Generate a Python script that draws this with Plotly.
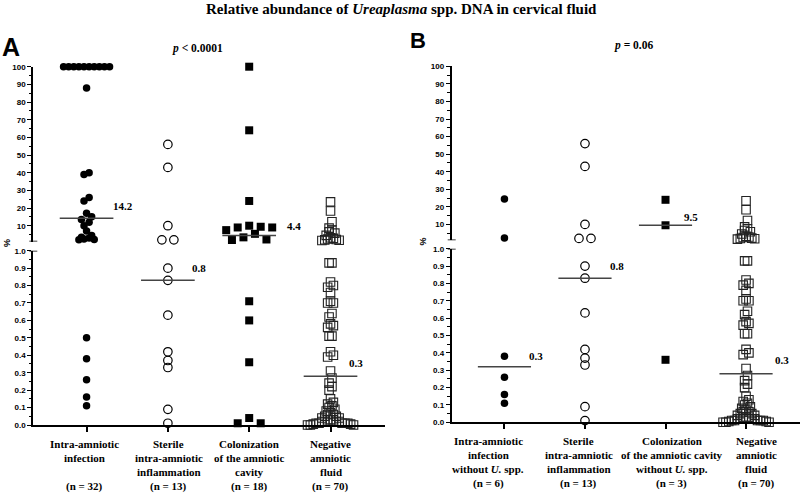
import plotly.graph_objects as go

W, H = 803, 493

# ---------------- data ----------------
TITLE = "Relative abundance of <i>Ureaplasma</i> spp. DNA in cervical fluid"

A_LABELS = ["Intra-amniotic<br>infection<br><br>(n = 32)",
            "Sterile<br>intra-amniotic<br>inflammation<br>(n = 13)",
            "Colonization<br>of the amniotic<br>cavity<br>(n = 18)",
            "Negative<br>amniotic<br>fluid<br>(n = 70)"]
B_LABELS = ["Intra-amniotic<br>infection<br>without <i>U.</i> spp.<br>(n = 6)",
            "Sterile<br>intra-amniotic<br>inflammation<br>(n = 13)",
            "Colonization<br>of the amniotic cavity<br>without <i>U.</i> spp.<br>(n = 3)",
            "Negative<br>amniotic<br>fluid<br>(n = 70)"]

intra_amniotic_infection = [100, 100, 100, 100, 100, 100, 100, 100, 100, 100,
                            88, 40, 39, 26, 24, 17, 15, 13.5, 12, 10, 7,
                            4.5, 3.5, 3, 2.5, 2.2, 2,
                            0.50, 0.38, 0.26, 0.16, 0.11]
sterile_inflammation = [56, 43, 10, 2, 2,
                        0.90, 0.83, 0.63, 0.42, 0.37, 0.33, 0.09, 0.01]
colonization = [100, 64, 24, 10, 9.4, 9, 9, 7.5, 5.4, 3.4, 2.2, 1.9,
                0.71, 0.60, 0.36, 0.04, 0.01, 0.01]
negative_fluid = [23.5, 18.3, 12.2, 8.6, 7.5, 6.5, 5.8, 4.5, 3.2, 2.8, 2.5, 2.2, 2.0, 1.8, 1.6,
                  0.93, 0.93, 0.82, 0.80, 0.79, 0.76, 0.71, 0.70, 0.70, 0.64,
                  0.62, 0.58, 0.57, 0.56, 0.51, 0.51, 0.42, 0.40, 0.39, 0.31,
                  0.27, 0.24, 0.22, 0.20, 0.15, 0.13, 0.12, 0.11, 0.10, 0.09,
                  0.08, 0.07, 0.06, 0.06, 0.05, 0.05, 0.04, 0.04, 0.03, 0.03,
                  0.03, 0.02, 0.02, 0.02, 0.02, 0.01, 0.01, 0.01, 0.01, 0.01,
                  0.005, 0.005, 0.0, 0.0, 0.0]
infection_without_u = [24.5, 2.2, 0.38, 0.26, 0.16, 0.11]
colonization_without_u = [24, 9.5, 0.36]

A_MEDIANS = [14.2, 0.83, 4.4, 0.28]
A_MEDIAN_TEXT = ["14.2", "0.8", "4.4", "0.3"]
B_MEDIANS = [0.32, 0.83, 9.5, 0.28]
B_MEDIAN_TEXT = ["0.3", "0.8", "9.5", "0.3"]

LOWER_TICKS = [0.0, 0.1, 0.2, 0.3, 0.4, 0.5, 0.6, 0.7, 0.8, 0.9, 1.0]
UPPER_TICKS = [10, 20, 30, 40, 50, 60, 70, 80, 90, 100]
P_TEXT = ["<i>p</i> &lt; 0.0001", "<i>p</i> = 0.06"]

# ---------------- layout geometry ----------------
XR = [-0.655, 3.67]
LOWER_R = [0, 1.0]
UPPER_R = [1, 100]
PANELS = {
    "A": dict(xdom=[33.3 / W, 385 / W],
              low=[1 - 425 / H, 1 - 250.7 / H], up=[1 - 241.6 / H, 1 - 66.7 / H],
              label_first=443.5, label_shift=[-2, 1, 0, 0]),
    "B": dict(xdom=[451.7 / W, 800 / W],
              low=[1 - 422.3 / H, 1 - 248.7 / H], up=[1 - 240.2 / H, 1 - 66.3 / H],
              label_first=440.5, label_shift=[-16, -6, 6, 10]),
}
LABEL_LINE_H = 14.3
A_LABEL_DX = [0.30, 0.27, 0.44, 0.20]
A_LABEL_DY = [12, 12, 10, 13]
B_LABEL_DX = [0.28, 0.28, 0.21, 0.33]
B_LABEL_DY = [11, 12, 8, 14]

SERIF = "Liberation Serif"
SANS = "Liberation Sans"
ROW_H = 6.5
W_NAT = 12.0
HALF_MAX = 23.0

STYLES = [dict(symbol="circle", size=7.5, color="black", line=dict(width=0)),
          dict(symbol="circle-open", size=8.5, color="black", line=dict(width=1.2)),
          dict(symbol="square", size=8, color="black", line=dict(width=0)),
          dict(symbol="square-open", size=8.5, color="#222", line=dict(width=1.1))]


def to_px(v, dom, rng):
    top = H * (1 - dom[1])
    bot = H * (1 - dom[0])
    return bot - (v - rng[0]) / (rng[1] - rng[0]) * (bot - top)


def center_out(n):
    if n % 2:
        out = [0]
        k = 1
        while len(out) < n:
            out += [k, -k]
            k += 1
    else:
        out = []
        k = 0.5
        while len(out) < n:
            out += [k, -k]
            k += 1
    return out[:n]


def swarm_slots(values, panel):
    slots = [0.0] * len(values)
    for seg in ("low", "up"):
        rng = LOWER_R if seg == "low" else UPPER_R
        idx = [i for i, v in enumerate(values) if (v < 1) == (seg == "low")]
        idx.sort(key=lambda i: -values[i])
        rows = []
        for i in idx:
            y = to_px(values[i], panel[seg], rng)
            if rows and abs(y - rows[-1][0]) < ROW_H:
                rows[-1][1].append(i)
            else:
                rows.append([y, [i]])
        for _, members in rows:
            for m, s in zip(members, center_out(len(members))):
                slots[m] = s
    return slots


fig = go.Figure()

panel_data = {
    "A": [intra_amniotic_infection, sterile_inflammation, colonization, negative_fluid],
    "B": [infection_without_u, sterile_inflammation, colonization_without_u, negative_fluid],
}
panel_labels = {"A": A_LABELS, "B": B_LABELS}
axes = {"A": ("x", "y", "y2"), "B": ("x2", "y3", "y4")}
medians = {"A": (A_MEDIANS, A_MEDIAN_TEXT, A_LABEL_DX, A_LABEL_DY),
           "B": (B_MEDIANS, B_MEDIAN_TEXT, B_LABEL_DX, B_LABEL_DY)}

annotations = []
for key in ("A", "B"):
    panel = PANELS[key]
    xa, ylow, yup = axes[key]
    px_per_unit = (panel["xdom"][1] - panel["xdom"][0]) * W / (XR[1] - XR[0])
    for ci, vals in enumerate(panel_data[key]):
        slots = swarm_slots(vals, panel)
        maxs = max(abs(s) for s in slots)
        w = W_NAT if maxs == 0 else min(W_NAT, HALF_MAX / maxs)
        for seg, yref in (("low", ylow), ("up", yup)):
            xs = [ci + s * w / px_per_unit for v, s in zip(vals, slots) if (v < 1) == (seg == "low")]
            ys = [v for v in vals if (v < 1) == (seg == "low")]
            if not ys:
                continue
            fig.add_trace(go.Scatter(x=xs, y=ys, mode="markers", xaxis=xa, yaxis=yref,
                                     marker=STYLES[ci], cliponaxis=False,
                                     hoverinfo="y"))
        med, mtxt, mdx, mdy = medians[key]
        m = med[ci]
        yref = ylow if m < 1 else yup
        fig.add_trace(go.Scatter(x=[ci - 0.33, ci + 0.33], y=[m, m], mode="lines",
                                 xaxis=xa, yaxis=yref, cliponaxis=False,
                                 line=dict(color="#444", width=1.5), hoverinfo="skip"))
        annotations.append(dict(x=ci + mdx[ci], y=m, xref=xa, yref=yref, text=mtxt[ci],
                                showarrow=False, xanchor="left", yanchor="middle",
                                yshift=mdy[ci],
                                font=dict(family=SERIF, size=11, color="black", weight="bold")))
        # category label below the axis, one annotation per line
        for j, line in enumerate(panel_labels[key][ci].split("<br>")):
            if not line:
                continue
            ypx = panel["label_first"] + j * LABEL_LINE_H
            annotations.append(dict(x=ci, y=1 - ypx / H, xref=xa, yref="paper",
                                    xshift=panel["label_shift"][ci],
                                    text=line, showarrow=False,
                                    xanchor="center", yanchor="middle",
                                    font=dict(family=SERIF, size=11, color="black",
                                              weight="bold")))

# titles & labels
annotations += [
    dict(x=0.5, y=1 - 8.5 / H, xref="paper", yref="paper", text=TITLE, showarrow=False,
         xanchor="center", yanchor="middle",
         font=dict(family=SERIF, size=15, color="black", weight="bold")),
    dict(x=11 / W, y=1 - 47 / H, xref="paper", yref="paper", text="A", showarrow=False,
         xanchor="center", yanchor="middle",
         font=dict(family=SANS, size=25, color="black", weight="bold")),
    dict(x=418 / W, y=1 - 41 / H, xref="paper", yref="paper", text="B", showarrow=False,
         xanchor="center", yanchor="middle",
         font=dict(family=SANS, size=22, color="black", weight="bold")),
    dict(x=197.5 / W, y=1 - 49 / H, xref="paper", yref="paper", text=P_TEXT[0], showarrow=False,
         xanchor="center", yanchor="middle",
         font=dict(family=SERIF, size=11.5, color="black", weight="bold")),
    dict(x=633 / W, y=1 - 45 / H, xref="paper", yref="paper", text=P_TEXT[1], showarrow=False,
         xanchor="center", yanchor="middle",
         font=dict(family=SERIF, size=11.5, color="black", weight="bold")),
    dict(x=7 / W, y=1 - 243 / H, xref="paper", yref="paper", text="%", showarrow=False,
         textangle=-90, xanchor="center", yanchor="middle",
         font=dict(family=SANS, size=9, color="black", weight="bold")),
    dict(x=422.5 / W, y=1 - 242 / H, xref="paper", yref="paper", text="%", showarrow=False,
         textangle=-90, xanchor="center", yanchor="middle",
         font=dict(family=SANS, size=9, color="black", weight="bold")),
]

# axis break caps
shapes = []
for key in ("A", "B"):
    panel = PANELS[key]
    xa, ylow, yup = axes[key]
    x0 = panel["xdom"][0]
    for yref, val in ((yup, UPPER_R[0]), (ylow, LOWER_R[1])):
        shapes.append(dict(type="line", xref="paper", yref=yref,
                           x0=x0 - 4 / W, x1=x0 + 4 / W, y0=val, y1=val,
                           line=dict(color="black", width=1.5)))

common_y = dict(showgrid=False, zeroline=False, showline=True, linewidth=2, linecolor="black",
                ticks="outside", ticklen=4, tickwidth=1.3, tickcolor="black",
                tickfont=dict(family=SANS, size=8, color="black", weight="bold"),
                automargin=False, fixedrange=True)
common_x = dict(showgrid=False, zeroline=False, showline=True, linewidth=2, linecolor="black",
                ticks="outside", ticklen=5, tickwidth=1.5, tickcolor="black",
                tickvals=[0, 1, 2, 3], showticklabels=False, range=XR,
                automargin=False, fixedrange=True)

lower_y = dict(range=LOWER_R, tickvals=LOWER_TICKS, tickformat=".1f",
               minor=dict(dtick=0.05, tick0=0, ticks="outside", ticklen=2.5, tickwidth=1,
                          tickcolor="black", showgrid=False))
upper_y = dict(range=UPPER_R, tickvals=UPPER_TICKS,
               minor=dict(dtick=5, tick0=0, ticks="outside", ticklen=2.5, tickwidth=1,
                          tickcolor="black", showgrid=False))

fig.update_layout(
    width=W, height=H, margin=dict(l=0, r=0, t=0, b=0),
    paper_bgcolor="white", plot_bgcolor="white", showlegend=False,
    xaxis=dict(domain=PANELS["A"]["xdom"], anchor="y", **common_x),
    xaxis2=dict(domain=PANELS["B"]["xdom"], anchor="y3", **common_x),
    yaxis=dict(domain=PANELS["A"]["low"], anchor="x", **lower_y, **common_y),
    yaxis2=dict(domain=PANELS["A"]["up"], anchor="x", **upper_y, **common_y),
    yaxis3=dict(domain=PANELS["B"]["low"], anchor="x2", **lower_y, **common_y),
    yaxis4=dict(domain=PANELS["B"]["up"], anchor="x2", **upper_y, **common_y),
    annotations=annotations, shapes=shapes,
)

fig.write_html("out.html", config={"displayModeBar": False},
               post_script="document.body.style.margin='0';document.body.style.overflow='hidden';")
